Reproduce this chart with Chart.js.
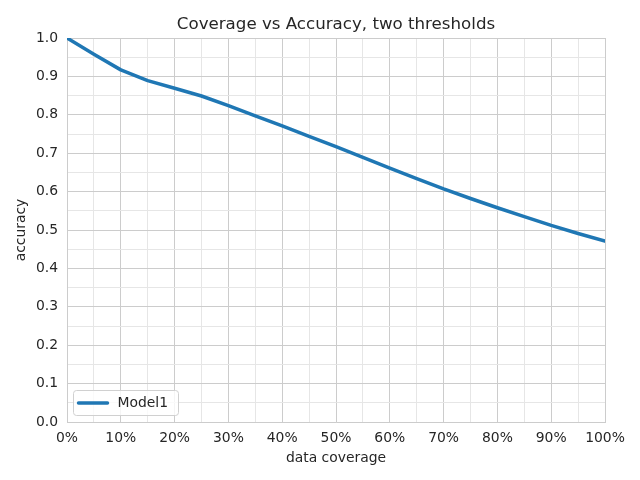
<!DOCTYPE html>
<html>
<head>
<meta charset="utf-8">
<script src="https://cdn.jsdelivr.net/npm/chart.js@4"></script>
<style>
html,body{margin:0;padding:0;background:#fff;}
canvas{display:block;}
</style>
</head>
<body>
<canvas id="c" width="640" height="480"></canvas>
<script>
const coverage = [0, 5, 10, 15, 20, 25, 30, 35, 40, 45, 50, 55, 60, 65, 70, 75, 80, 85, 90, 95, 100];
const model1Accuracy = [1.0, 0.958, 0.917, 0.889, 0.869, 0.849, 0.824, 0.797, 0.771, 0.744, 0.717, 0.689, 0.661, 0.634, 0.607, 0.582, 0.558, 0.535, 0.512, 0.491, 0.471];
const seriesLabel = 'Model1';
const titleText = 'Coverage vs Accuracy, two thresholds';
const xLabel = 'data coverage';
const yLabel = 'accuracy';

const FONT = "'DejaVu Sans', sans-serif";
const TXT = '#262626';
const MAJOR = '#cccccc';
const MINOR = '#e6e6e6';
const FS = 13.9;

const legendPlugin = {
  id: 'insideLegend',
  afterDraw(chart) {
    const ctx = chart.ctx;
    const area = chart.chartArea;
    const ds = chart.data.datasets[0];
    const x0 = area.left + 6.5, y0 = area.bottom - 31.5, w = 105, h = 25;
    ctx.save();
    ctx.beginPath();
    const r = 3;
    ctx.moveTo(x0 + r, y0);
    ctx.arcTo(x0 + w, y0, x0 + w, y0 + h, r);
    ctx.arcTo(x0 + w, y0 + h, x0, y0 + h, r);
    ctx.arcTo(x0, y0 + h, x0, y0, r);
    ctx.arcTo(x0, y0, x0 + w, y0, r);
    ctx.closePath();
    ctx.fillStyle = 'rgba(255,255,255,0.8)';
    ctx.fill();
    ctx.strokeStyle = '#d0d0d0';
    ctx.lineWidth = 1;
    ctx.stroke();
    ctx.beginPath();
    ctx.moveTo(x0 + 5, y0 + h / 2);
    ctx.lineTo(x0 + 34, y0 + h / 2);
    ctx.strokeStyle = ds.borderColor;
    ctx.lineWidth = ds.borderWidth;
    ctx.lineCap = 'round';
    ctx.stroke();
    ctx.fillStyle = TXT;
    ctx.font = FS + 'px ' + FONT;
    ctx.textBaseline = 'middle';
    ctx.textAlign = 'left';
    ctx.fillText(ds.label, x0 + 44, y0 + h / 2 + 0.5);
    ctx.restore();
  }
};

new Chart(document.getElementById('c'), {
  type: 'line',
  data: {
    datasets: [{
      label: seriesLabel,
      data: coverage.map((x, i) => ({ x: x, y: model1Accuracy[i] })),
      borderColor: '#1f77b4',
      borderWidth: 3.5,
      pointRadius: 0,
      tension: 0,
      fill: false,
      borderCapStyle: 'round',
      borderJoinStyle: 'round'
    }]
  },
  plugins: [legendPlugin],
  options: {
    responsive: false,
    animation: false,
    devicePixelRatio: 1,
    layout: { padding: { left: 6, right: 35, top: 0, bottom: 10 } },
    plugins: {
      legend: { display: false },
      tooltip: { enabled: false },
      title: {
        display: true,
        text: titleText,
        fullSize: false,
        color: TXT,
        font: { family: FONT, size: 16.67, weight: 'normal' },
        padding: { top: 15, bottom: 3 }
      }
    },
    scales: {
      x: {
        type: 'linear',
        min: 0, max: 100,
        afterFit: s => { s.height = 48; },
        ticks: {
          stepSize: 5,
          autoSkip: false,
          maxRotation: 0,
          color: TXT,
          font: { family: FONT, size: FS },
          padding: 8,
          callback: v => (v % 10 === 0 ? v + '%' : '')
        },
        grid: {
          drawTicks: false,
          color: ctx => (ctx.tick && ctx.tick.value % 10 === 0 ? MAJOR : MINOR),
          lineWidth: 1
        },
        border: { display: true, color: MAJOR },
        title: {
          display: true, text: xLabel, color: TXT,
          font: { family: FONT, size: FS },
          padding: { top: 4, bottom: 3 }
        }
      },
      y: {
        min: 0, max: 1,
        afterFit: s => { s.width = 61; },
        ticks: {
          stepSize: 0.05,
          autoSkip: false,
          color: TXT,
          font: { family: FONT, size: FS },
          padding: 9,
          callback: v => {
            const r = Math.round(v * 100);
            return r % 10 === 0 ? (r / 100).toFixed(1) : '';
          }
        },
        grid: {
          drawTicks: false,
          color: ctx => (ctx.tick && Math.round(ctx.tick.value * 100) % 10 === 0 ? MAJOR : MINOR),
          lineWidth: 1
        },
        border: { display: true, color: MAJOR },
        title: {
          display: true, text: yLabel, color: TXT,
          font: { family: FONT, size: FS },
          padding: { top: 7, bottom: 4 }
        }
      }
    }
  }
});
</script>
</body>
</html>
